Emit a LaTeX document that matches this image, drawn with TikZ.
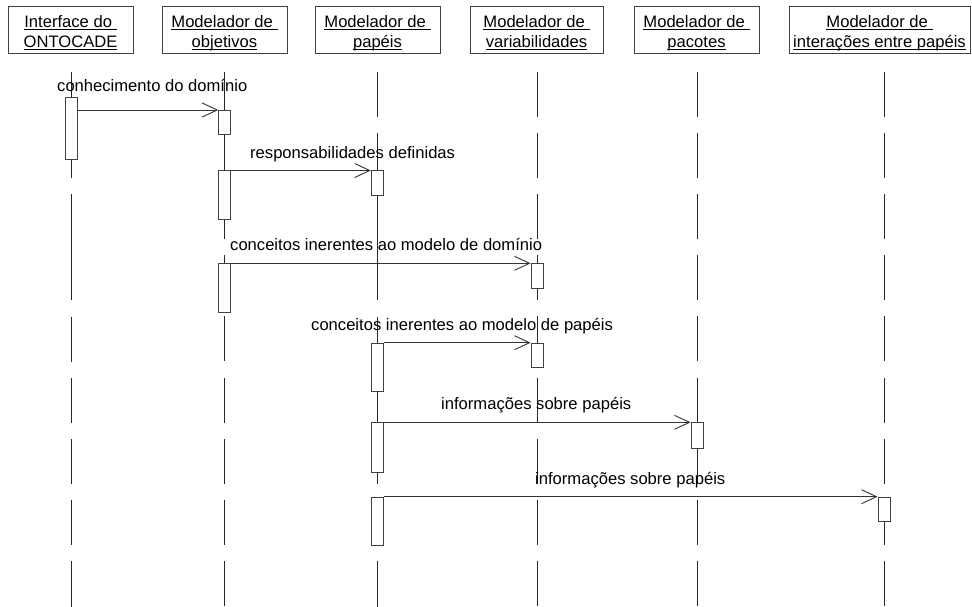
\documentclass[tikz,border=0pt]{standalone}
\usepackage{fontspec}
\setmainfont{Liberation Sans}
\usetikzlibrary{arrows.meta}
\newcommand{\hu}[1]{\setbox0=\hbox{#1}\rlap{\rule[-2.4pt]{\wd0}{0.9pt}}\box0}
\begin{document}
\begin{tikzpicture}[x=1pt,y=-1pt,
  every node/.style={font=\fontsize{16.6}{20.4}\selectfont},
  hdr/.style={draw=black!75, line width=0.9pt, minimum height=47.7pt, inner sep=0pt, align=center},
  act/.style={draw=black!75, line width=0.9pt, fill=white, minimum width=12pt, inner sep=0pt, anchor=north},
  lifeline/.style={draw=black!85, line width=0.9pt, dash pattern=on 45pt off 16.1pt},
  lifelinealt/.style={draw=black!85, line width=0.9pt, dash pattern=on 45pt off 16.1pt on 45pt off 16.1pt on 106.2pt off 16.1pt on 45pt off 16.1pt on 45pt off 16.1pt on 45pt off 16.1pt on 45pt off 16.1pt on 60pt off 10pt},
  msg/.style={draw=black!80, line width=0.9pt, -{Straight Barb[length=15pt,width=14pt,line width=0.9pt]}},
  lbl/.style={anchor=base west, inner sep=0pt}]
\useasboundingbox (0,0) rectangle (972,607);

% header boxes
\node[hdr, minimum width=125pt] (h1) at (70.5,29.85) {\rule{0pt}{19.3pt}\hu{Interface do\ }\\\hu{ONTOCADE}\rule[-4pt]{0pt}{4pt}};
\node[hdr, minimum width=125pt] (h2) at (224.5,29.85) {\rule{0pt}{19.3pt}\hu{Modelador de\ }\\\hu{objetivos}\rule[-4pt]{0pt}{4pt}};
\node[hdr, minimum width=125pt] (h3) at (377.5,29.85) {\rule{0pt}{19.3pt}\hu{Modelador de\ }\\\hu{papéis}\rule[-4pt]{0pt}{4pt}};
\node[hdr, minimum width=133pt] (h4) at (536.5,29.85) {\rule{0pt}{19.3pt}\hu{Modelador de\ }\\\hu{variabilidades}\rule[-4pt]{0pt}{4pt}};
\node[hdr, minimum width=125pt] (h5) at (696.5,29.85) {\rule{0pt}{19.3pt}\hu{Modelador de\ }\\\hu{pacotes}\rule[-4pt]{0pt}{4pt}};
\node[hdr, minimum width=181pt] (h6) at (879.5,29.85) {\rule{0pt}{19.3pt}\hu{Modelador de\ }\\\hu{interações entre papéis}\rule[-4pt]{0pt}{4pt}};

% lifeline ends
\coordinate (t1) at (71.5,72);  \coordinate (b1) at (71.5,607);
\coordinate (t2) at (224.7,72); \coordinate (b2) at (224.7,607);
\coordinate (t3) at (377.2,72); \coordinate (b3) at (377.2,607);
\coordinate (t4) at (537,72);   \coordinate (b4) at (537,607);
\coordinate (t5) at (697,72);   \coordinate (b5) at (697,607);
\coordinate (t6) at (884,72);   \coordinate (b6) at (884,607);

\draw[lifelinealt] (t1) -- (b1);
\draw[lifeline] (t2) -- (b2);
\draw[lifelinealt] (t3) -- (b3);
\draw[lifeline] (t4) -- (b4);
\draw[lifeline] (t5) -- (b5);
\draw[lifeline] (t6) -- (b6);

% activations
\node[act, minimum height=62pt]   (a1)  at (71.5,97.3) {};
\node[act, minimum height=24pt]   (a2)  at (224.7,110) {};
\node[act, minimum height=48.5pt] (a3)  at (224.7,170.5) {};
\node[act, minimum height=24pt]   (a4)  at (377.2,170.5) {};
\node[act, minimum height=48.4pt] (a5)  at (224.7,263.3) {};
\node[act, minimum height=24.4pt] (a6)  at (537,263.3) {};
\node[act, minimum height=48.3pt] (a7)  at (377.2,342.7) {};
\node[act, minimum height=24.6pt] (a8)  at (537,342.7) {};
\node[act, minimum height=50pt]   (a9)  at (377.2,422.3) {};
\node[act, minimum height=25.4pt] (a10) at (697,422.3) {};
\node[act, minimum height=48.3pt] (a11) at (377.2,496.7) {};
\node[act, minimum height=24pt]   (a12) at (884,496.7) {};

% messages
\draw[msg] (a1.east |- a2.north west) -- (a2.north west);
\draw[msg] (a3.north east) -- (a4.north west);
\draw[msg] (a5.north east) -- (a6.north west);
\draw[msg] (a7.north east) -- (a8.north west);
\draw[msg] (a9.north east) -- (a10.north west);
\draw[msg] (a11.north east) -- (a12.north west);

% labels
\node[lbl] (l1) at (57,92) {conhecimento do domínio};
\node[lbl] (l2) at (250,158.3) {responsabilidades definidas};
\node[lbl] (l3) at (230,250) {conceitos inerentes ao modelo de domínio};
\node[lbl] (l4) at (311,330.7) {conceitos inerentes ao modelo de papéis};
\node[lbl] (l5) at (441,409.3) {informações sobre papéis};
\node[lbl] (l6) at (535,484) {informações sobre papéis};
\end{tikzpicture}
\end{document}
